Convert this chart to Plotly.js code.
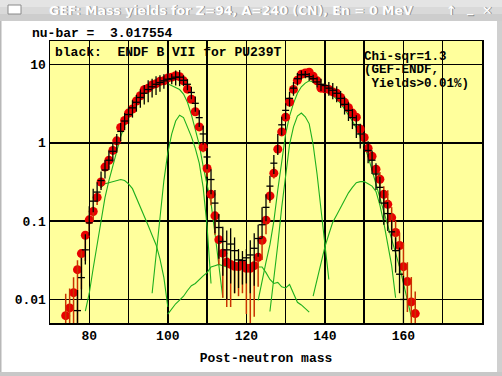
<!DOCTYPE html>
<html><head><meta charset="utf-8">
<script src="https://cdn.plot.ly/plotly-3.0.1.min.js"></script>
<style>html,body{margin:0;padding:0;background:#fff;overflow:hidden}#chart{width:502px;height:376px}</style>
</head><body><div id="chart"></div>
<script>
// ---------------- data ----------------
const gefMass = [74,75,76,77,78,79,80,81,82,83,84,85,86,87,88,89,90,91,92,93,94,95,96,97,98,99,100,101,102,103,104,105,106,107,108,109,110,111,112,113,114,115,116,117,118,119,120,121,122,123,124,125,126,127,128,129,130,131,132,133,134,135,136,137,138,139,140,141,142,143,144,145,146,147,148,149,150,151,152,153,154,155,156,157,158,159,160,161,162,163];
const gefYield = [0.0062,0.0078,0.0122,0.024,0.0385,0.066,0.104,0.133,0.201,0.316,0.49,0.60,0.80,1.06,1.57,1.93,2.40,2.71,3.43,4.0,4.78,5.0,5.5,5.7,6.1,6.2,6.75,6.9,7.2,7.0,6.2,4.85,3.6,2.5,1.6,0.88,0.47,0.22,0.117,0.058,0.039,0.030,0.028,0.0265,0.0263,0.028,0.025,0.025,0.027,0.0345,0.057,0.103,0.21,0.41,0.83,1.38,2.13,3.33,4.82,6.3,7.5,7.8,8.0,7.1,6.2,5.0,4.9,4.82,4.47,4.3,3.8,3.29,2.81,2.40,2.13,1.50,1.17,0.855,0.675,0.46,0.343,0.22,0.164,0.111,0.0716,0.0488,0.0262,0.0169,0.0093,0.0066];
const gefErrPlus = [0.0056,0.006,0.007,0.0076,0.003,0.003,0.01,0.02,0.03,0.03,0.03,0.03,0.04,0.05,0.06,0.07,0.08,0.08,0.1,0.1,0.12,0.12,0.13,0.13,0.14,0.14,0.15,0.15,0.15,0.15,0.14,0.12,0.1,0.1,0.08,0.06,0.04,0.02,0.01,0.006,0.004,0.003,0.003,0.003,0.003,0.003,0.003,0.003,0.003,0.004,0.006,0.01,0.06,0.08,0.06,0.06,0.08,0.1,0.12,0.14,0.15,0.15,0.15,0.14,0.13,0.12,0.12,0.12,0.12,0.11,0.1,0.1,0.09,0.08,0.08,0.07,0.06,0.06,0.06,0.06,0.08,0.06,0.085,0.04,0.03,0.022,0.027,0.013,0.01,0.006];
const gefErrMinus = [0.0062,0.0078,0.0122,0.024,0.025,0.035,0.03,0.03,0.04,0.05,0.04,0.04,0.04,0.05,0.06,0.07,0.08,0.08,0.1,0.1,0.12,0.12,0.13,0.13,0.14,0.14,0.15,0.15,0.15,0.15,0.14,0.12,0.1,0.2,0.15,0.12,0.1,0.06,0.05,0.03,0.0285,0.022,0.02,0.0145,0.0153,0.016,0.0185,0.025,0.021,0.02,0.025,0.035,0.04,0.06,0.08,0.08,0.08,0.1,0.12,0.14,0.15,0.15,0.15,0.14,0.13,0.12,0.12,0.12,0.12,0.11,0.1,0.1,0.09,0.08,0.08,0.07,0.06,0.06,0.06,0.08,0.08,0.06,0.07,0.04,0.025,0.022,0.009,0.01,0.0093,0.0066];

const endfMass = [77,78,79,80,81,82,83,84,85,86,87,88,89,90,91,92,93,94,95,96,97,98,99,100,101,102,103,104,105,106,107,108,109,110,111,112,113,114,115,116,117,118,119,120,121,122,123,124,125,126,127,128,129,130,131,132,133,134,135,136,137,138,139,140,141,142,143,144,145,146,147,148,149,150,151,152,153,154,155,156,157,158,159,160];
const endfYield = [0.0072,0.019,0.043,0.095,0.18,0.235,0.33,0.45,0.6,0.78,1.0,1.4,1.9,2.3,2.8,3.3,3.8,4.3,4.8,5.2,5.6,5.9,6.2,6.5,6.6,6.9,6.9,6.3,5.6,4.4,3.2,2.1,1.3,0.66,0.34,0.17,0.083,0.055,0.043,0.051,0.042,0.032,0.0315,0.034,0.037,0.045,0.06,0.09,0.15,0.28,0.55,1.0,1.7,2.6,3.7,5.0,6.6,7.4,7.5,7.0,6.6,6.0,5.6,5.4,5.0,4.7,4.3,3.7,3.1,2.6,2.1,1.7,1.3,1.0,0.8,0.6,0.4,0.27,0.17,0.125,0.073,0.042,0.021,0.01];
const endfErrPlus = [0.006,0.015,0.025,0.06,0.08,0.08,0.1,0.15,0.2,0.2,0.3,0.4,0.5,0.6,0.7,0.8,1.0,1.2,1.5,1.4,1.5,1.4,1.3,1.2,1.0,1.5,1.6,1.0,0.9,0.8,0.7,0.5,0.35,0.2,0.12,0.08,0.04,0.03,0.033,0.03,0.02,0.012,0.01,0.01,0.02,0.025,0.03,0.06,0.07,0.1,0.15,0.3,0.45,0.6,0.8,1.0,1.2,1.0,0.8,0.8,0.8,0.9,1.0,1.0,1.0,1.1,1.0,0.9,0.8,0.7,0.6,0.55,0.45,0.35,0.25,0.2,0.15,0.1,0.08,0.05,0.03,0.02,0.025,0.01];
const endfErrMinus = [0.0072,0.009,0.015,0.03,0.05,0.06,0.08,0.1,0.15,0.2,0.25,0.35,0.45,0.55,0.7,0.8,1.0,1.2,1.5,1.4,1.5,1.4,1.3,1.2,1.0,1.5,1.6,1.0,0.9,0.8,0.7,0.5,0.35,0.2,0.12,0.1,0.05,0.035,0.033,0.035,0.03,0.018,0.016,0.018,0.025,0.03,0.025,0.03,0.05,0.1,0.15,0.3,0.45,0.6,0.8,1.0,1.2,1.0,0.8,0.8,0.8,0.9,1.0,1.0,1.0,1.1,1.0,0.9,0.8,0.7,0.6,0.55,0.45,0.35,0.25,0.2,0.15,0.1,0.08,0.05,0.03,0.02,0.009,0.01];

const s2LightMass = [79,80,81,82,83,84,85,86,87,88,89,90,91,92,93,94,95,96,97,98,99,100,101,102,103,104,105,106,107,108,109,110,111,112,113,114];
const s2LightYield = [0.0071,0.012,0.025,0.05,0.1,0.2,0.33,0.52,0.82,1.2,1.65,2.1,2.6,3.2,3.8,4.4,4.9,5.3,5.6,5.8,5.85,5.7,5.4,5.1,4.8,4.2,3.3,2.3,1.5,0.95,0.5,0.3,0.17,0.07,0.025,0.0105];
const s1LightMass = [96,97,98,99,100,101,102,103,104,105,106,107,108,109,110,111];
const s1LightYield = [0.012,0.035,0.11,0.33,0.75,1.3,1.9,2.25,2.1,1.6,1.2,0.85,0.55,0.27,0.085,0.016];
const s3LightMass = [83,84,85,86,87,88,89,90,91,92,93,94,95,96,97,98,99,100];
const s3LightYield = [0.27,0.3,0.31,0.32,0.33,0.34,0.33,0.3,0.26,0.2,0.15,0.115,0.088,0.066,0.05,0.033,0.019,0.008];
const slMass = [100,101,102,103,104,105,106,107,108,109,110,111,112,113,114,115,116,117,118,119,120,121,122,123,124,125,126,127,128,129,130,131,132,133,134,135,136];
const slYield = [0.0065,0.0075,0.0088,0.0098,0.011,0.013,0.015,0.016,0.018,0.02,0.022,0.026,0.027,0.028,0.027,0.026,0.026,0.026,0.026,0.026,0.026,0.026,0.026,0.026,0.026,0.022,0.018,0.016,0.0165,0.0145,0.014,0.0155,0.012,0.0092,0.0085,0.0076,0.0069];
const s1HeavyMass = [126,127,128,129,130,131,132,133,134,135,136,137,138,139,140,141];
const s1HeavyYield = [0.007,0.018,0.05,0.15,0.4,0.95,1.6,2.2,2.4,2.15,1.75,0.95,0.4,0.14,0.045,0.018];
const s2HeavyMass = [123,124,125,126,127,128,129,130,131,132,133,134,135,136,137,138,139,140,141,142,143,144,145,146,147,148,149,150,151,152,153,154,155,156,157,158,159,160,161,162];
const s2HeavyYield = [0.0097,0.018,0.03,0.05,0.1,0.25,0.6,1.3,2.2,3.2,4.3,5.2,5.8,6.2,6.0,5.5,5.2,4.8,4.5,4.1,3.6,3.2,2.7,2.3,1.9,1.55,1.2,0.92,0.67,0.45,0.29,0.19,0.13,0.09,0.06,0.04,0.026,0.016,0.0095,0.006];
const s3HeavyMass = [137,138,139,140,141,142,143,144,145,146,147,148,149,150,151,152,153,154,155,156,157,158];
const s3HeavyYield = [0.011,0.018,0.03,0.047,0.068,0.097,0.12,0.15,0.19,0.23,0.27,0.31,0.32,0.32,0.3,0.28,0.24,0.16,0.095,0.052,0.027,0.0105];

const xTickVals = [80,100,120,140,160];
const yTickVals = [0.01,0.1,1,10];
const yTickText = ['0.01','0.1','1','10'];

// ---------------- layout helpers ----------------
const W=502,H=376,ML=50,MR=20,MT=41,MB=53;
const PW=W-ML-MR, PH=H-MT-MB;
const fx=p=>(p-ML)/PW;
const fy=p=>(H-MB-p)/PH;
const mono={family:'"Liberation Mono","DejaVu Sans Mono",monospace',size:13,color:'#000',weight:'bold'};
const monoSm={family:'"Liberation Mono","DejaVu Sans Mono",monospace',size:12.5,color:'#000',weight:'bold'};
const green='rgb(30,175,30)';

function comp(x,y){return {x:x,y:y,type:'scatter',mode:'lines',line:{color:green,width:1.1},hoverinfo:'skip',showlegend:false};}

const traces=[
  comp(s3LightMass,s3LightYield),
  comp(slMass,slYield),
  comp(s3HeavyMass,s3HeavyYield),
  comp(s2LightMass,s2LightYield),
  comp(s1LightMass,s1LightYield),
  comp(s1HeavyMass,s1HeavyYield),
  comp(s2HeavyMass,s2HeavyYield),
  {x:gefMass,y:gefYield,type:'scatter',mode:'markers',marker:{color:'rgb(232,0,0)',size:9,line:{width:0}},showlegend:false},
  {x:gefMass,y:gefYield,type:'scatter',mode:'markers',marker:{size:0,opacity:0},
   error_y:{type:'data',symmetric:false,array:gefErrPlus,arrayminus:gefErrMinus,color:'rgb(200,50,0)',thickness:1.5,width:0},showlegend:false},
  {x:endfMass,y:endfYield,type:'scatter',mode:'markers',marker:{symbol:'line-ew',size:5,color:'#000',line:{color:'#000',width:1.3}},
   error_y:{type:'data',symmetric:false,array:endfErrPlus,arrayminus:endfErrMinus,color:'#000',thickness:1.3,width:0},showlegend:false}
];

const shapes=[
  {type:'rect',xref:'paper',yref:'paper',x0:fx(0),x1:fx(502),y0:fy(0),y1:fy(7),fillcolor:'#e4e4e4',line:{width:0}},
  {type:'rect',xref:'paper',yref:'paper',x0:fx(0),x1:fx(502),y0:fy(7),y1:fy(14),fillcolor:'#d9d9d9',line:{width:0}},
  {type:'rect',xref:'paper',yref:'paper',x0:fx(0),x1:fx(502),y0:fy(14),y1:fy(21),fillcolor:'#cdcdcd',line:{width:0}},
  {type:'rect',xref:'paper',yref:'paper',x0:fx(8),x1:fx(21),y0:fy(5),y1:fy(14),fillcolor:'#ffffff',line:{color:'#8a8a8a',width:1}},
  {type:'rect',xref:'paper',yref:'paper',x0:fx(0),x1:fx(1.5),y0:fy(21),y1:fy(376),fillcolor:'#b8b8b8',line:{width:0}},
  {type:'rect',xref:'paper',yref:'paper',x0:fx(497),x1:fx(502),y0:fy(21),y1:fy(376),fillcolor:'#d0d0d0',line:{width:0}},
  {type:'rect',xref:'paper',yref:'paper',x0:fx(0),x1:fx(502),y0:fy(372),y1:fy(376),fillcolor:'#c8c8c8',line:{width:0}}
];

function ann(text,x,y,font,anchor){return {text:text,xref:'paper',yref:'paper',x:fx(x),y:fy(y),xanchor:anchor||'left',yanchor:'middle',showarrow:false,font:font||mono,borderpad:0};}
const titleFont={family:'"DejaVu Sans",sans-serif',size:12.5,color:'#ffffff',weight:'bold'};
const titleShadow={family:'"DejaVu Sans",sans-serif',size:12.5,color:'#8a8a8a',weight:'bold'};
const annotations=[
  ann('GEF: Mass yields for Z=94, A=240 (CN), En = 0 MeV',232,11,titleShadow,'center'),
  ann('GEF: Mass yields for Z=94, A=240 (CN), En = 0 MeV',231,10,titleFont,'center'),
  ann('↑',452,11,titleShadow,'center'), ann('↑',451,10,titleFont,'center'),
  ann('_',471,9,titleShadow,'center'), ann('_',470,8,titleFont,'center'),
  ann('✕',488,11,titleShadow,'center'), ann('✕',487,10,titleFont,'center'),
  ann('nu-bar =\u00a0\u00a03.017554',31,34),
  ann('black:\u00a0\u00a0ENDF B VII for PU239T',54,53),
  ann('Chi-sqr=1.3',363,57,monoSm),
  ann('(GEF-ENDF,',363,70.5,monoSm),
  ann('\u00a0Yields>0.01%)',363,84,monoSm)
];

const layout={
  width:W,height:H,margin:{l:ML,r:MR,t:MT,b:MB,pad:0},
  paper_bgcolor:'#ffffff',plot_bgcolor:'#ffff9c',
  showlegend:false,
  xaxis:{range:[70,180],tickvals:xTickVals,ticks:'',showgrid:true,gridcolor:'#000',gridwidth:1.5,
    minor:{dtick:10,tick0:0,showgrid:true,gridcolor:'#000',gridwidth:1.5,ticks:''},
    zeroline:false,showline:true,linecolor:'#000',linewidth:1.5,mirror:true,
    tickfont:mono,ticklabelstandoff:0,
    title:{text:'Post-neutron mass',font:mono,standoff:10}},
  yaxis:{type:'log',range:[Math.log10(0.005),Math.log10(20)],tickvals:yTickVals,ticktext:yTickText,ticks:'',
    showgrid:true,gridcolor:'#000',gridwidth:1.5,zeroline:false,showline:true,linecolor:'#000',linewidth:1.5,mirror:true,
    tickfont:mono,ticklabelstandoff:0},
  shapes:shapes,annotations:annotations
};
Plotly.newPlot('chart',traces,layout,{staticPlot:true,displayModeBar:false});
</script></body></html>
